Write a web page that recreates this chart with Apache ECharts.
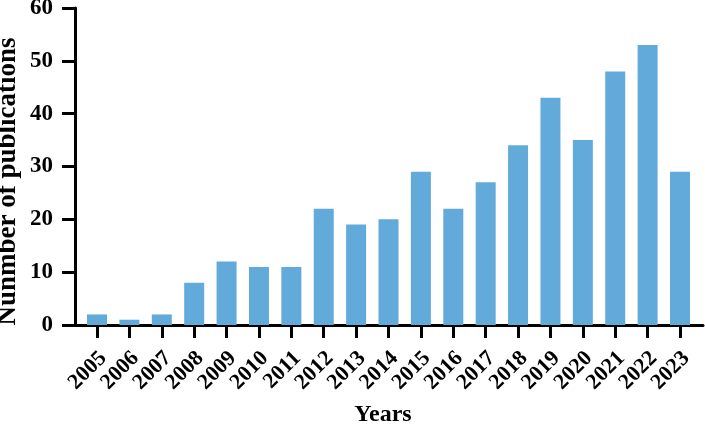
<!DOCTYPE html>
<html>
<head>
<meta charset="utf-8">
<script src="https://cdn.jsdelivr.net/npm/echarts@6/dist/echarts.min.js"></script>
<style>html,body{margin:0;padding:0;background:#fff}#c{width:705px;height:425px}</style>
</head>
<body>
<div id="c"></div>
<script>
const years = [2005,2006,2007,2008,2009,2010,2011,2012,2013,2014,2015,2016,2017,2018,2019,2020,2021,2022,2023];
const publications = [2,1,2,8,12,11,11,22,19,20,29,22,27,34,43,35,48,53,29];
const yTicks = [0,10,20,30,40,50,60];

const font = 'Liberation Serif';
const labelShift = 0.19; // labels sit slightly right of their ticks
const chart = echarts.init(document.getElementById('c'), null, {renderer:'canvas'});
chart.setOption({
  animation:false,
  backgroundColor:'#fff',
  grid:{left:75,right:2,top:8,bottom:100,containLabel:false,outerBoundsMode:'none'},
  xAxis:{
    type:'value', min:2004.32, max:2023.71,
    name:'Years', nameLocation:'middle', nameGap:78, nameMoveOverlap:false,
    nameTextStyle:{fontFamily:font,fontWeight:'bold',fontSize:24,color:'#000',padding:[0,12,0,0]},
    axisLine:{show:true,onZero:false,lineStyle:{color:'#000',width:3}},
    axisTick:{show:true,inside:false,length:13,lineStyle:{color:'#000',width:3},customValues:years},
    axisLabel:{customValues:years.map(y=>y+labelShift),rotate:45,margin:30,fontFamily:font,fontWeight:'bold',fontSize:22,color:'#000',formatter:v=>String(Math.round(v))},
    splitLine:{show:false}
  },
  yAxis:{
    type:'value', min:yTicks[0], max:yTicks[yTicks.length-1], interval:10,
    name:'Nunmber of publications', nameLocation:'middle', nameGap:53, nameMoveOverlap:false,
    nameTextStyle:{fontFamily:font,fontWeight:'bold',fontSize:27,color:'#000',padding:[0,30,0,0]},
    axisLine:{show:true,lineStyle:{color:'#000',width:3}},
    axisTick:{show:true,inside:false,length:13,lineStyle:{color:'#000',width:3}},
    axisLabel:{margin:22,fontFamily:font,fontWeight:'bold',fontSize:23,color:'#000'},
    splitLine:{show:false}
  },
  series:[{
    type:'bar', barWidth:20,
    data:years.map((y,i)=>[y,publications[i]]),
    itemStyle:{color:'#62aad9'}
  }]
});
</script>
</body>
</html>
